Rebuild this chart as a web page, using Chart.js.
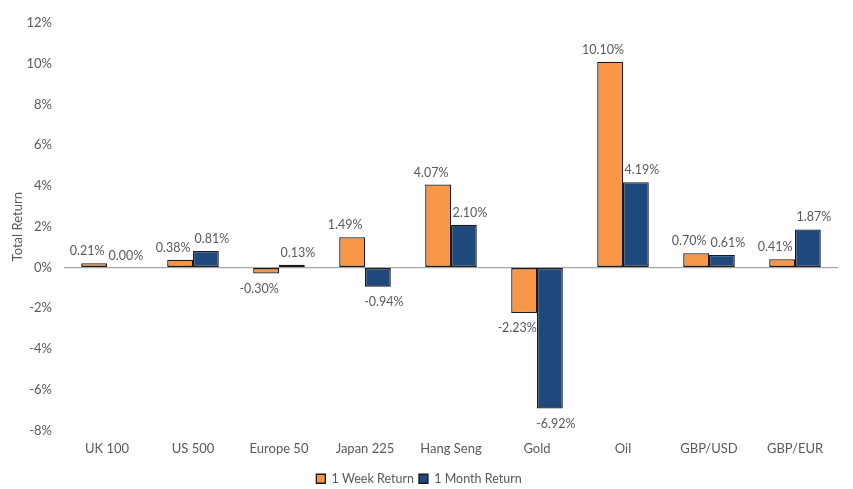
<!DOCTYPE html>
<html><head><meta charset="utf-8">
<script src="https://cdn.jsdelivr.net/npm/chart.js@4/dist/chart.umd.min.js"></script>
<style>html,body{margin:0;padding:0;background:#fff}#wrap{width:853px;height:489px}</style>
</head><body><div id="wrap"><canvas id="c"></canvas></div>
<script>
const categories = ["UK 100","US 500","Europe 50","Japan 225","Hang Seng","Gold","Oil","GBP/USD","GBP/EUR"];
const weekReturn = [0.21,0.38,-0.30,1.49,4.07,-2.23,10.10,0.70,0.41];
const monthReturn = [0.00,0.81,0.13,-0.94,2.10,-6.92,4.19,0.61,1.87];
const yTicks = [-8,-6,-4,-2,0,2,4,6,8,10,12];

const FONT = "Lato, 'Open Sans', sans-serif";
const GRAY = '#595959';

const labelPlugin = {
  id:'barLabels',
  afterDatasetsDraw(chart){
    const ctx = chart.ctx;
    ctx.save();
    ctx.font = "12.5px " + FONT;
    ctx.fillStyle = GRAY;
    ctx.textAlign = 'center';
    ctx.textBaseline = 'middle';
    chart.data.datasets.forEach((ds,i)=>{
      const meta = chart.getDatasetMeta(i);
      const dx = ds.labelShift || 0;
      meta.data.forEach((bar,j)=>{
        const v = ds.data[j];
        const y = v >= 0 ? Math.min(bar.y, bar.base) - 12 : Math.max(bar.y, bar.base) + 15;
        ctx.fillText(v.toFixed(2) + '%', bar.x + dx, y);
      });
    });
    ctx.restore();
  }
};

new Chart(document.getElementById('c'), {
  type:'bar',
  data:{
    labels:categories,
    datasets:[
      {label:'1 Week Return', data:weekReturn, labelShift:-7, backgroundColor:'#F79646', borderColor:'#1a1a1a', borderWidth:1.3, borderSkipped:false, categoryPercentage:0.6, barPercentage:1.0},
      {label:'1 Month Return', data:monthReturn, labelShift:6, backgroundColor:'#1F497D', borderColor:'#1a1a1a', borderWidth:1.3, borderSkipped:false, categoryPercentage:0.6, barPercentage:1.0}
    ]
  },
  options:{
    responsive:true, maintainAspectRatio:false, animation:false,
    layout:{padding:{top:23,right:15,left:0,bottom:-6}},
    plugins:{
      tooltip:{enabled:false},
      legend:{position:'bottom',
        labels:{font:{family:FONT,size:12.5},color:GRAY,boxWidth:9,boxHeight:9,padding:5}}
    },
    scales:{
      x:{
        afterFit(scale){ scale.height = 37; },
        grid:{display:false, drawTicks:false}, border:{display:false},
        ticks:{font:{family:FONT,size:13},color:GRAY,padding:11}
      },
      y:{
        min:-8,max:12,
        afterBuildTicks(scale){ scale.ticks = yTicks.map(v=>({value:v})); },
        afterFit(scale){ scale.width = 64; },
        grid:{drawTicks:false, color:ctx=>ctx.tick && ctx.tick.value===0 ? '#a6a6a6':'rgba(0,0,0,0)', lineWidth:1.2},
        border:{display:false},
        ticks:{font:{family:FONT,size:13},color:GRAY,padding:12,callback:v=>v+'%'},
        title:{display:true,text:'Total Return',font:{family:FONT,size:13},color:GRAY,padding:{top:10,bottom:0}}
      }
    }
  },
  plugins:[labelPlugin]
});
</script></body></html>
